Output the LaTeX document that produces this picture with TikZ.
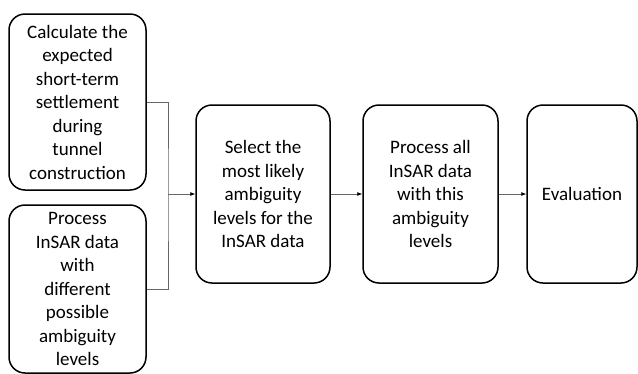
\documentclass[tikz,border=0pt]{standalone}
\usepackage{fontspec}
\setmainfont{Carlito}
\usetikzlibrary{arrows.meta}
\begin{document}
\begin{tikzpicture}[x=1pt,y=1pt,
  stepbox/.style={draw=black, line width=1.5pt, rounded corners=16pt, align=center,
    inner sep=0pt, font=\fontsize{19}{23.5}\selectfont},
  conn/.style={draw=gray!80!black, line width=0.7pt},
  arr/.style={conn, -{Latex[length=5pt,width=4pt,black]}}]
\useasboundingbox (0,0) rectangle (638,-373);
\clip (0,0) rectangle (638,-373);
\node[stepbox, minimum width=137pt, minimum height=176pt] (a) at (77.5,-102)
  {Calculate the\\expected\\short-term\\settlement\\during\\tunnel\\construction};
\node[stepbox, minimum width=137pt, minimum height=168pt] (b) at (77.5,-289)
  {Process\\InSAR data\\with\\different\\possible\\ambiguity\\levels};
\node[stepbox, minimum width=134pt, minimum height=178pt] (c) at (263,-194)
  {Select the\\most likely\\ambiguity\\levels for the\\InSAR data};
\node[stepbox, minimum width=135pt, minimum height=178pt] (d) at (430.5,-194)
  {Process all\\InSAR data\\with this\\ambiguity\\levels};
\node[stepbox, minimum width=110pt, minimum height=178pt] (e) at (582,-194)
  {Evaluation};
\coordinate (j) at (168,-194);
\draw[conn] (a.east) -| (j) |- (b.east);
\draw[arr] (j) -- (c.west);
\draw[arr] (c.east) -- (d.west);
\draw[arr] (d.east) -- (e.west);
\end{tikzpicture}
\end{document}
